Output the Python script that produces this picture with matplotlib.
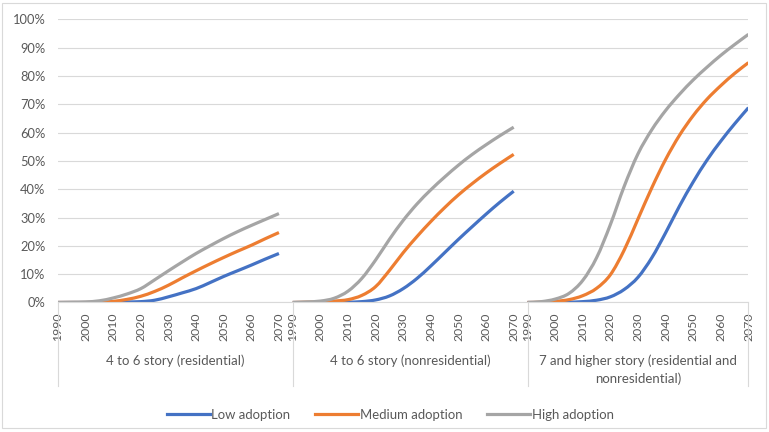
import numpy as np
import matplotlib
matplotlib.use("Agg")
import matplotlib.pyplot as plt
from matplotlib.patches import Rectangle, PathPatch
from matplotlib.path import Path
from matplotlib.lines import Line2D
from matplotlib.textpath import TextPath
from matplotlib.font_manager import FontProperties

plt.rcParams['font.family'] = ['Lato', 'DejaVu Sans']

years = [1990, 1995, 2000, 2005, 2010, 2015, 2020, 2025, 2030,
         2035, 2040, 2045, 2050, 2055, 2060, 2065, 2070]
groups = ["4 to 6 story (residential)",
          "4 to 6 story (nonresidential)",
          "7 and higher story (residential and\nnonresidential)"]
series_names = ["Low adoption", "Medium adoption", "High adoption"]
colors = ["#4472C4", "#ED7D31", "#A5A5A5"]

# values in percent, per group
low = [
    [0, 0, 0, 0, 0.1, 0.2, 0.3, 0.8, 2.0, 3.4, 4.9, 7.0, 9.2, 11.2, 13.2, 15.3, 17.3],
    [0, 0, 0, 0, 0.1, 0.3, 0.9, 2.3, 4.9, 8.5, 12.9, 17.6, 22.3, 26.8, 31.2, 35.4, 39.3],
    [0, 0, 0, 0.1, 0.3, 0.8, 2.0, 4.6, 8.9, 15.8, 24.6, 34.0, 42.6, 50.3, 57.0, 63.1, 68.8],
]
medium = [
    [0, 0, 0, 0.1, 0.4, 1.1, 2.2, 3.9, 6.1, 8.7, 11.2, 13.6, 15.9, 18.1, 20.2, 22.5, 24.7],
    [0, 0.1, 0.2, 0.5, 1.0, 2.5, 5.6, 11.3, 17.6, 23.3, 28.6, 33.5, 38.0, 42.0, 45.7, 49.1, 52.3],
    [0, 0.1, 0.4, 1.0, 2.4, 5.0, 9.8, 18.5, 29.5, 40.5, 50.5, 59.0, 66.0, 71.8, 76.6, 80.9, 84.7],
]
high = [
    [0, 0.1, 0.2, 0.6, 1.6, 3.0, 4.9, 8.0, 11.2, 14.3, 17.3, 20.0, 22.6, 25.0, 27.2, 29.3, 31.4],
    [0, 0.2, 0.5, 1.5, 4.0, 8.5, 15.0, 22.3, 29.0, 34.8, 39.8, 44.3, 48.5, 52.3, 55.7, 58.9, 61.9],
    [0, 0.3, 1.2, 3.2, 7.8, 15.8, 27.5, 41.0, 52.5, 61.0, 67.8, 73.5, 78.6, 83.1, 87.3, 91.1, 94.7],
]

DPI = 100


def fit_size(text, px):
    # font size (pt) whose ink width is about px pixels
    ext = TextPath((0, 0), text, size=10, prop=FontProperties(family='Lato')).get_extents()
    return 10 * px / (ext.width * DPI / 72)


def smooth_path(x, y):
    # Excel-style smoothed line: bezier segments through each data point
    pts = np.column_stack([x, y])
    verts = [pts[0]]
    codes = [Path.MOVETO]
    for i in range(len(pts) - 1):
        p0 = pts[i - 1] if i > 0 else pts[i]
        p3 = pts[i + 2] if i + 2 < len(pts) else pts[i + 1]
        c1 = pts[i] + (pts[i + 1] - p0) / 6
        c2 = pts[i + 1] - (p3 - pts[i]) / 6
        verts += [c1, c2, pts[i + 1]]
        codes += [Path.CURVE4] * 3
    return Path(verts, codes)


ytick_size = fit_size("100%", 31)
xtick_size = fit_size("1990", 27)
label_size = fit_size(groups[0], 137)
legend_size = fit_size(series_names[0], 77)

n = len(years)
fig = plt.figure(figsize=(7.69, 4.32), dpi=DPI)
fig.patches.append(Rectangle((0.003, 0.009), 0.993, 0.985, transform=fig.transFigure,
                             fill=False, edgecolor="#D9D9D9", linewidth=0.8))
ax = fig.add_axes([0.0754, 0.2998, 0.8979, 0.6555])

# one category axis, the three groups laid end to end
for data, c in zip([low, medium, high], colors):
    for g in range(3):
        x = np.arange(n) + g * n
        ax.add_patch(PathPatch(smooth_path(x, np.array(data[g]) / 100), fill=False,
                               edgecolor=c, lw=2.3, capstyle='butt', joinstyle='round'))

ax.set_xlim(0, 3 * n - 1)
ax.set_ylim(0, 1)
ax.set_yticks(np.arange(0, 1.01, 0.1))
ax.set_yticklabels([f"{v}%" for v in range(0, 101, 10)])
ax.grid(axis='y', color="#D9D9D9", lw=0.8)
ax.set_axisbelow(True)
for s in ['top', 'right', 'left']:
    ax.spines[s].set_visible(False)
ax.spines['bottom'].set_color("#D9D9D9")

xt, xl = [], []
for g in range(3):
    for i in range(0, n, 2):
        xt.append(g * n + i)
        xl.append(str(years[i]))
ax.set_xticks(xt)
ax.set_xticklabels(xl, rotation=90)
ax.tick_params(axis='both', length=0, colors="#595959")
ax.tick_params(axis='x', pad=7, labelsize=xtick_size)
ax.tick_params(axis='y', pad=9, labelsize=ytick_size)

trans = ax.get_xaxis_transform()
for xs in [0, n, 2 * n, 3 * n - 1]:
    ax.plot([xs, xs], [0, -0.295], transform=trans, color="#D9D9D9",
            lw=0.8, clip_on=False)
centers = [n / 2, 1.5 * n, 2 * n + (n - 1) / 2]
for cx, label in zip(centers, groups):
    lines = label.split("\n")
    ax.text(cx, -0.204, lines[0], transform=trans, ha='center', va='center',
            fontsize=label_size, color="#595959")
    if len(lines) > 1:
        ax.text(cx, -0.268, lines[1], transform=trans, ha='center',
                va='center', fontsize=label_size, color="#595959")

handles = [Line2D([], [], color=c, lw=2.3) for c in colors]
leg = fig.legend(handles, series_names, loc='center',
                 bbox_to_anchor=(390 / 769, 1 - 415 / 432), ncol=3,
                 frameon=False, fontsize=legend_size, handlelength=3.3,
                 handletextpad=0.1, columnspacing=1.9)
for t in leg.get_texts():
    t.set_color("#595959")

fig.savefig("out.png", dpi=DPI)
